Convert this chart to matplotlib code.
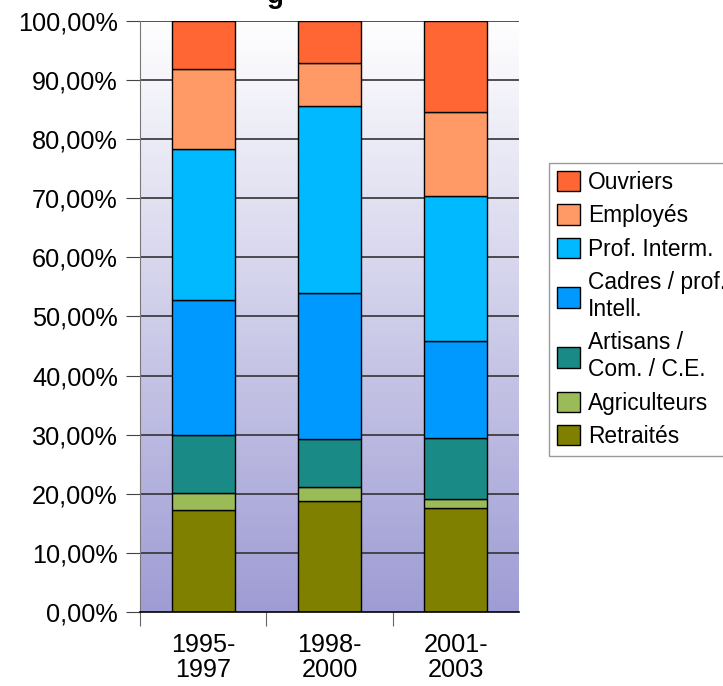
import numpy as np
import matplotlib.pyplot as plt
from matplotlib.patches import Patch
from matplotlib.ticker import FuncFormatter

plt.rcParams['font.family'] = ['Liberation Sans', 'DejaVu Sans']

periods = ["1995-\n1997", "1998-\n2000", "2001-\n2003"]
categories = ["Retraités", "Agriculteurs", "Artisans /\nCom. / C.E.",
              "Cadres / prof.\nIntell.", "Prof. Interm.", "Employés", "Ouvriers"]
retraites = [17.3, 18.8, 17.6]
agriculteurs = [2.8, 2.3, 1.6]
artisans = [9.8, 8.1, 10.2]
cadres = [22.9, 24.7, 16.4]
prof_interm = [25.5, 31.7, 24.6]
employes = [13.5, 7.3, 14.2]
ouvriers = [8.2, 7.1, 15.4]
colors = ["#808000", "#9BBB59", "#1A8A87", "#0099FF", "#00B9FF", "#FF9966", "#FF6633"]

series = [retraites, agriculteurs, artisans, cadres, prof_interm, employes, ouvriers]

fig = plt.figure(figsize=(7.23, 6.86), dpi=100)
ax = fig.add_axes([0.1936, 0.1079, 0.5242, 0.8615])

x = np.arange(len(periods))
ax.set_xlim(-0.5, 2.5)
ax.set_ylim(0, 100)

# vertical white -> lavender background (row 0 = top)
grad = np.linspace(0, 1, 256)[:, None]
top = np.array([255, 255, 255]) / 255
bot = np.array([158, 156, 212]) / 255
img = top[None, None, :] * (1 - grad[..., None]) + bot[None, None, :] * grad[..., None]
ax.imshow(img, extent=[-0.5, 2.5, 0, 100], origin='upper', aspect='auto', zorder=0)

for yv in range(10, 101, 10):
    ax.axhline(yv, color="#333333", lw=1.2, zorder=1)

bottom = np.zeros(len(periods))
for vals, col in zip(series, colors):
    ax.bar(x, vals, width=0.5, bottom=bottom, color=col,
           edgecolor="black", linewidth=1, zorder=2)
    bottom += np.array(vals)

ax.set_yticks(np.arange(0, 101, 10))
ax.yaxis.set_major_formatter(FuncFormatter(lambda v, p: f"{v:.2f}%".replace(".", ",")))
ax.tick_params(axis='y', labelsize=18.2, length=10, color="#444444", pad=6)

ax.set_xticks([-0.5, 0.5, 1.5])
ax.set_xticklabels([])
ax.set_xticks(x, minor=True)
ax.set_xticklabels(periods, minor=True, fontsize=18.2, linespacing=1.05)
ax.tick_params(axis='x', which='major', length=10, color="#666666")
ax.tick_params(axis='x', which='minor', length=0, pad=15)

ax.spines['right'].set_visible(False)
ax.spines['top'].set_visible(False)
ax.spines['left'].set_color("#777777")
ax.spines['bottom'].set_color("black")
ax.spines['bottom'].set_linewidth(1.2)

# descender of the clipped title
fig.text(275 / 723, 1 - 3 / 686, "g", fontsize=20, fontweight='bold',
         ha='center', va='baseline')

handles = [Patch(facecolor=c, edgecolor="black", lw=1) for c in colors[::-1]]
leg = fig.legend(handles, categories[::-1], loc='upper left',
                 bbox_to_anchor=(549 / 723, 1 - 163 / 686),
                 fontsize=16.4, frameon=True, fancybox=False,
                 handlelength=1.0, handleheight=1.0, handletextpad=0.35,
                 labelspacing=0.46, borderpad=0.35, borderaxespad=0)
leg.get_frame().set_edgecolor("#808080")
leg.get_frame().set_linewidth(1)
for t in leg.get_texts():
    t.set_linespacing(1.2)

fig.savefig("out.png", dpi=100)
